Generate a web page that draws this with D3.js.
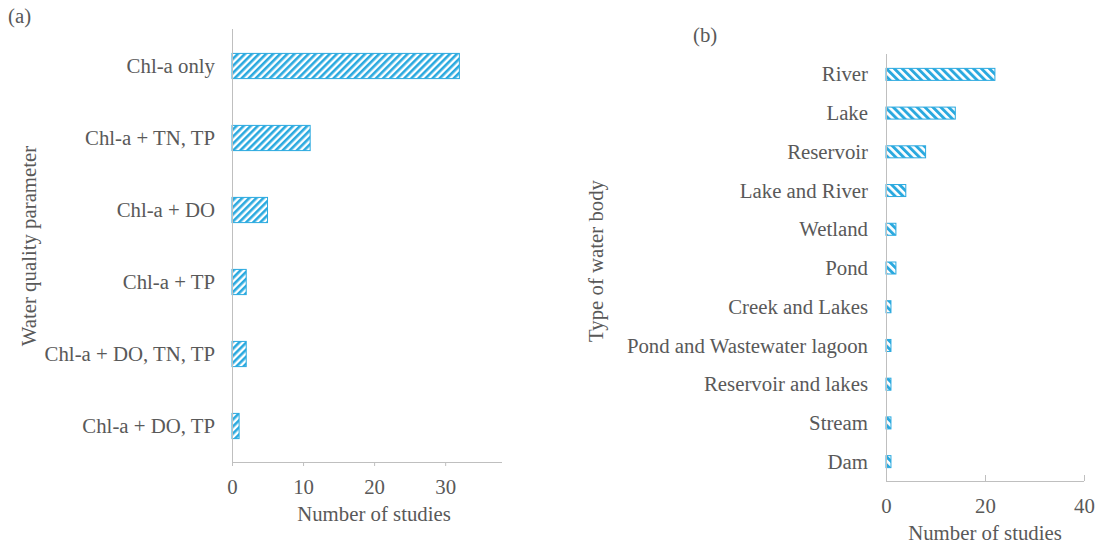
<!DOCTYPE html>
<html>
<head>
<meta charset="utf-8">
<script src="https://cdn.jsdelivr.net/npm/d3@7"></script>
<style>
  html, body { margin: 0; padding: 0; background: #fff; }
  svg { display: block; }
</style>
</head>
<body>
<svg id="chart" width="1098" height="545"></svg>
<script>
// Panel (a): water quality parameters studied
const paramCategories = ["Chl-a only", "Chl-a + TN, TP", "Chl-a + DO", "Chl-a + TP", "Chl-a + DO, TN, TP", "Chl-a + DO, TP"];
const paramCounts = [32, 11, 5, 2, 2, 1];
const paramTicks = [0, 10, 20, 30];

// Panel (b): type of water body studied
const bodyCategories = ["River", "Lake", "Reservoir", "Lake and River", "Wetland", "Pond", "Creek and Lakes", "Pond and Wastewater lagoon", "Reservoir and lakes", "Stream", "Dam"];
const bodyCounts = [22, 14, 8, 4, 2, 2, 1, 1, 1, 1, 1];
const bodyTicks = [0, 20, 40];

const BLUE = "#2aa9df";
const AXIS = "#bfbfbf";
const INK = "#595959";
const FONT = 20.8;
const FAMILY = "'Liberation Serif', 'Times New Roman', serif";

const svg = d3.select("#chart");
const defs = svg.append("defs");

function styleText(sel) {
  return sel.style("font-family", FAMILY).style("font-size", FONT + "px").style("fill", INK);
}

// diagonal hatch fills for the bars
function hatch(id, angle, period, thick) {
  const p = defs.append("pattern")
    .attr("id", id)
    .attr("patternUnits", "userSpaceOnUse")
    .attr("width", period).attr("height", period)
    .attr("patternTransform", `rotate(${angle})`);
  p.append("rect").attr("width", period).attr("height", period).attr("fill", "#fff");
  p.append("rect").attr("width", thick).attr("height", period).attr("fill", BLUE);
}
hatch("hatchA", 45, 5, 2.6);
hatch("hatchB", -45, 5.6, 2.9);

function panel(cfg) {
  const g = svg.append("g");
  const x = d3.scaleLinear().domain(cfg.domain).range([cfg.x0, cfg.x1]);
  const y = d3.scaleBand().domain(cfg.categories).range([cfg.y0, cfg.y1]).paddingInner(cfg.pad).paddingOuter(cfg.pad / 2);

  // bars
  g.selectAll("rect.bar").data(cfg.values).join("rect")
    .attr("class", "bar")
    .attr("x", x(0))
    .attr("y", (d, i) => y(cfg.categories[i]))
    .attr("width", d => x(d) - x(0))
    .attr("height", y.bandwidth())
    .attr("fill", `url(#${cfg.pattern})`)
    .attr("stroke", BLUE)
    .attr("stroke-width", 1);

  // value axis
  const xAxis = d3.axisBottom(x).tickValues(cfg.ticks).tickSize(cfg.tickSize).tickPadding(0).tickFormat(d3.format("d"));
  const gx = g.append("g").attr("transform", `translate(0,${cfg.y1})`).call(xAxis);
  gx.attr("font-family", null);
  gx.select(".domain").attr("stroke", AXIS).attr("d", `M${cfg.x0},0.5H${cfg.x1}`);
  gx.selectAll(".tick line").attr("stroke", AXIS);
  styleText(gx.selectAll(".tick text").attr("y", cfg.tickLabelY - cfg.y1).attr("dy", 0));

  // category axis
  const yAxis = d3.axisLeft(y).tickSize(0).tickPadding(cfg.labelGap);
  const gy = g.append("g").attr("transform", `translate(${cfg.x0},0)`).call(yAxis);
  gy.attr("font-family", null);
  gy.select(".domain").attr("stroke", AXIS).attr("d", `M0.5,${cfg.yTop}V${cfg.y1}`);
  styleText(gy.selectAll(".tick text").attr("dy", "0.34em"));

  // axis titles
  styleText(g.append("text")
    .attr("x", (cfg.x0 + cfg.x1) / 2 + cfg.titleShift)
    .attr("y", cfg.titleY)
    .attr("text-anchor", "middle")
    .text("Number of studies"));

  styleText(g.append("text")
    .attr("transform", `translate(${cfg.yTitleX},${cfg.yTitleY}) rotate(-90)`)
    .attr("text-anchor", "middle")
    .text(cfg.yTitle));

  // panel tag
  styleText(g.append("text")
    .attr("x", cfg.tagX).attr("y", cfg.tagY)
    .text(cfg.tag));
}

panel({
  categories: paramCategories, values: paramCounts, ticks: paramTicks,
  domain: [0, 38], x0: 232, x1: 502, y0: 30, y1: 462, yTop: 29, pad: 0.65,
  pattern: "hatchA", tickSize: 4, tickLabelY: 494, labelGap: 17,
  titleY: 521, titleShift: 7,
  yTitle: "Water quality parameter", yTitleX: 36, yTitleY: 246,
  tag: "(a)", tagX: 8, tagY: 23
});

panel({
  categories: bodyCategories, values: bodyCounts, ticks: bodyTicks,
  domain: [0, 40], x0: 886, x1: 1084, y0: 55, y1: 481, yTop: 54, pad: 0.69,
  pattern: "hatchB", tickSize: -6, tickLabelY: 513, labelGap: 18,
  titleY: 540, titleShift: 0,
  yTitle: "Type of water body", yTitleX: 603, yTitleY: 261,
  tag: "(b)", tagX: 693, tagY: 42
});
</script>
</body>
</html>
